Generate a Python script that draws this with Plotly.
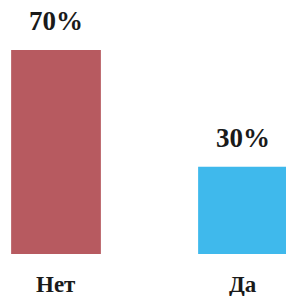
import plotly.graph_objects as go

categories = ["Нет", "Да"]
values = [70, 30]
labels = ["70%", "30%"]
colors = ["#B75A60", "#3FB9EC"]

x = list(range(len(categories)))
serif = "Liberation Serif, Times New Roman, Times, serif"

fig = go.Figure()
fig.add_trace(go.Bar(
    x=x, y=values, width=0.48,
    marker=dict(color=colors, line=dict(width=0)),
    showlegend=False, hoverinfo="skip",
))

for xi, v, t, c in zip(x, values, labels, categories):
    fig.add_annotation(x=xi, y=v, text=t, showarrow=False,
                       yanchor="bottom", yshift=12,
                       font=dict(family=serif, size=27, color="#1a1a1a", weight="bold"))
    fig.add_annotation(x=xi, y=0, text=c, showarrow=False,
                       yanchor="middle", yshift=-30,
                       font=dict(family=serif, size=23, color="#1a1a1a", weight="bold"))

fig.update_layout(
    width=286, height=296,
    margin=dict(l=0, r=0, t=0, b=0, autoexpand=False),
    paper_bgcolor="white", plot_bgcolor="white",
    xaxis=dict(range=[-0.2995, 1.23], visible=False, automargin=False),
    yaxis=dict(range=[-14.4, 87.2], visible=False, automargin=False),
)

fig.write_html("out.html", config={"displayModeBar": False},
               post_script="document.body.style.margin='0';document.body.style.padding='0';")
